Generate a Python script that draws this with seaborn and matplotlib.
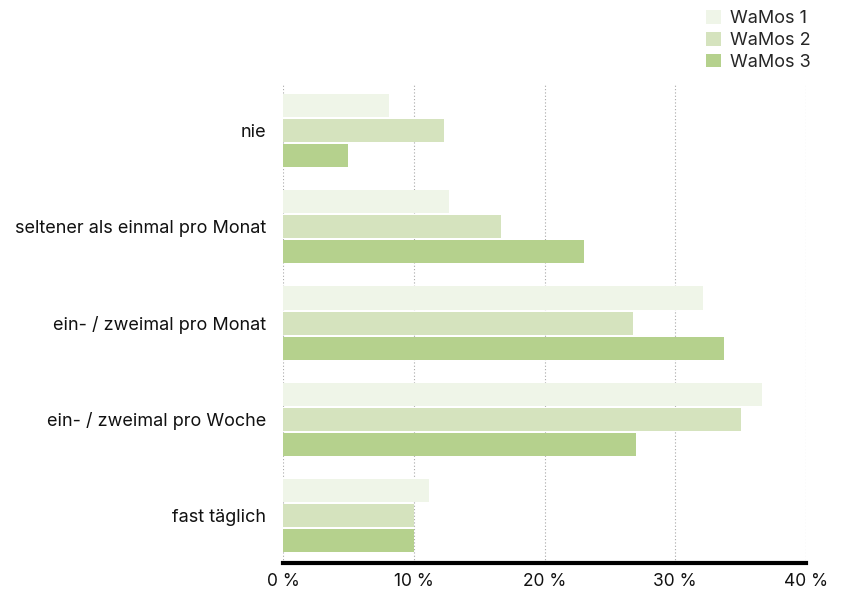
import matplotlib
matplotlib.use("Agg")
import matplotlib.pyplot as plt
import seaborn as sns
import pandas as pd
from matplotlib.patches import Patch

categories = ["nie", "seltener als einmal pro Monat", "ein- / zweimal pro Monat",
              "ein- / zweimal pro Woche", "fast täglich"]
series = ["WaMos 1", "WaMos 2", "WaMos 3"]
wamos1 = [8.1, 12.7, 32.1, 36.6, 11.2]
wamos2 = [12.3, 16.7, 26.8, 35.0, 10.0]
wamos3 = [5.0, 23.0, 33.7, 27.0, 10.0]
xticks = [0, 10, 20, 30, 40]
xticklabels = ["0 %", "10 %", "20 %", "30 %", "40 %"]
colors = ["#eff5e8", "#d5e3be", "#b5d18d"]

rows = []
for s, vals in zip(series, [wamos1, wamos2, wamos3]):
    for c, v in zip(categories, vals):
        rows.append({"cat": c, "series": s, "value": v})
df = pd.DataFrame(rows)

sns.set_theme(style="white")
plt.rcParams["font.family"] = ["Inter", "DejaVu Sans"]

fig = plt.figure(figsize=(8.42, 5.95), dpi=100)
ax = fig.add_axes([283 / 842, 32 / 595, (806 - 283) / 842, (563 - 85) / 595])

sns.barplot(data=df, y="cat", x="value", hue="series", order=categories,
            hue_order=series, palette=colors, orient="h", width=0.78, gap=0.08,
            ax=ax, legend=False, linewidth=0, saturation=1)

ax.set_xlim(0, 40)
ax.set_ylim(4.49, -0.47)
ax.set_xticks(xticks)
ax.set_xticklabels(xticklabels, fontsize=12.5, color="#111111")
ax.tick_params(axis="y", labelsize=13, labelcolor="#111111", length=0, pad=12)
ax.tick_params(axis="x", length=0, pad=7)
ax.set_xlabel("")
ax.set_ylabel("")
for x in xticks:
    ax.axvline(x, color="#a8a8a8", linestyle=(0, (1, 2)), linewidth=0.8, zorder=0)
for sp in ["top", "right", "left"]:
    ax.spines[sp].set_visible(False)
ax.spines["bottom"].set_color("black")
ax.spines["bottom"].set_linewidth(3)
ax.spines["bottom"].set_zorder(5)

handles = [Patch(facecolor=c, edgecolor="none", label=s) for c, s in zip(colors, series)]
fig.legend(handles=handles, loc="upper left", bbox_to_anchor=(699 / 842, 1 - 3 / 595),
           frameon=False, fontsize=13, handlelength=0.8, handleheight=0.8,
           handletextpad=0.5, labelspacing=0.25, borderaxespad=0, borderpad=0.4)

fig.savefig("out.png", dpi=100, facecolor="white")
